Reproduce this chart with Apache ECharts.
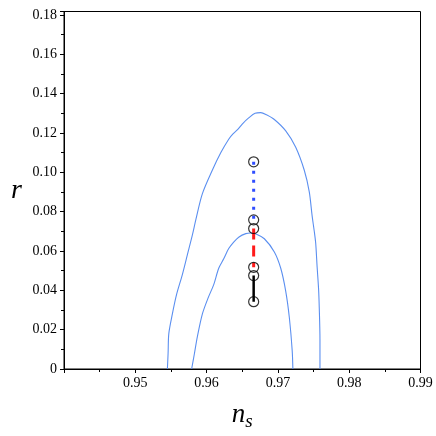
<!DOCTYPE html>
<html>
<head>
<meta charset="utf-8">
<script src="https://cdn.jsdelivr.net/npm/echarts@6/dist/echarts.min.js"></script>
<style>html,body{margin:0;padding:0;background:#fff;}#c{width:436px;height:436px;}</style>
</head>
<body>
<div id="c"></div>
<script>
// Outer contour (n_s, r)
var outerNs = [0.9545,0.9546,0.9547,0.9552,0.9558,0.9566,0.9573,0.9580,0.9585,0.9594,0.9608,0.9620,0.9631,0.9637,0.9643,0.9650,0.9659,0.9668,0.9676,0.9684,0.9695,0.9711,0.9725,0.9737,0.9744,0.9748,0.9751,0.9753,0.9755,0.9757,0.9758,0.9759,0.9759];
var outerR  = [0,0.008,0.018,0.028,0.038,0.048,0.058,0.068,0.076,0.089,0.101,0.110,0.1168,0.1195,0.1215,0.1245,0.1276,0.1300,0.1303,0.1292,0.1268,0.121,0.1127,0.101,0.090,0.0778,0.0700,0.0640,0.052,0.041,0.0313,0.015,0];
// Inner contour
var innerNs = [0.9579,0.9583,0.9587,0.9594,0.9602,0.9610,0.9617,0.9624,0.9631,0.9638,0.9645,0.9655,0.9662,0.9670,0.9681,0.9695,0.9704,0.9711,0.9716,0.9720,0.9721];
var innerR  = [0,0.008,0.0163,0.0279,0.036,0.0429,0.0512,0.056,0.0612,0.0645,0.0670,0.0688,0.0691,0.0685,0.0662,0.0595,0.0512,0.0395,0.0263,0.0096,0];
// Model points
var pointNs = [0.9666,0.9666,0.9666,0.9666,0.9666,0.9666];
var pointR  = [0.1053,0.0758,0.0714,0.0517,0.0475,0.0342];
// Axis ticks
var xTicks = [0.95,0.96,0.97,0.98,0.99];
var yTicks = [0,0.02,0.04,0.06,0.08,0.10,0.12,0.14,0.16,0.18];

function pairs(xs, ys){ return xs.map(function(x,i){ return [x, ys[i]]; }); }
function seg(i,j){ return [[pointNs[i],pointR[i]],[pointNs[j],pointR[j]]]; }

var serif = "'Liberation Serif', 'DejaVu Serif', serif";
var chart = echarts.init(document.getElementById('c'), null, {renderer:'canvas'});
chart.setOption({
  animation:false,
  backgroundColor:'#fff',
  grid:{left:64,right:15.5,top:11.5,bottom:60,show:true,borderColor:'#000',borderWidth:1,backgroundColor:'transparent'},
  xAxis:{
    type:'value', min:0.94, max:0.99, interval:0.01,
    axisLine:{lineStyle:{color:'#000',width:1}},
    axisTick:{show:true,length:4,lineStyle:{color:'#000'}},
    minorTick:{show:true,splitNumber:2,length:3,lineStyle:{color:'#000'}},
    splitLine:{show:false},
    axisLabel:{margin:7,color:'#000',fontFamily:serif,fontSize:14,
      formatter:function(v){ for(var k=0;k<xTicks.length;k++){ if(Math.abs(v-xTicks[k])<1e-9) return xTicks[k].toFixed(2);} return ''; }},
    name:'{n|n}{s|s}', nameLocation:'middle', nameGap:29,
    nameTextStyle:{rich:{
      n:{fontFamily:serif,fontStyle:'italic',fontSize:27,color:'#000'},
      s:{fontFamily:serif,fontStyle:'italic',fontSize:19,color:'#000',padding:[14,0,0,0]}
    }}
  },
  yAxis:{
    type:'value', min:0, max:0.1817, interval:0.02,
    axisLine:{lineStyle:{color:'#000',width:1}},
    axisTick:{show:true,length:4,lineStyle:{color:'#000'}},
    minorTick:{show:true,splitNumber:2,length:3,lineStyle:{color:'#000'}},
    splitLine:{show:false},
    axisLabel:{margin:7,color:'#000',fontFamily:serif,fontSize:14,
      formatter:function(v){ for(var k=0;k<yTicks.length;k++){ if(Math.abs(v-yTicks[k])<1e-9) return yTicks[k]===0?'0':yTicks[k].toFixed(2);} return ''; }},
    name:'r', nameLocation:'middle', nameGap:42, nameRotate:0,
    nameTextStyle:{fontFamily:serif,fontStyle:'italic',fontSize:28,color:'#000'}
  },
  series:[
    {type:'line',data:pairs(outerNs,outerR),symbol:'none',smooth:0.3,lineStyle:{color:'#5b8ff0',width:1.1},z:2},
    {type:'line',data:pairs(innerNs,innerR),symbol:'none',smooth:0.3,lineStyle:{color:'#5b8ff0',width:1.1},z:2},
    {type:'line',data:seg(0,1),symbol:'none',lineStyle:{color:'#2f4dff',width:3,type:[3,6]},z:3},
    {type:'line',data:seg(2,3),symbol:'none',lineStyle:{color:'#ff1a1a',width:3,type:[11,6]},z:3},
    {type:'line',data:seg(4,5),symbol:'none',lineStyle:{color:'#000',width:2.5},z:3},
    {type:'scatter',data:pairs(pointNs,pointR),symbol:'circle',symbolSize:10,
      itemStyle:{color:'rgba(0,0,0,0)',borderColor:'#000',borderWidth:1.2},z:4}
  ]
});
</script>
</body>
</html>
